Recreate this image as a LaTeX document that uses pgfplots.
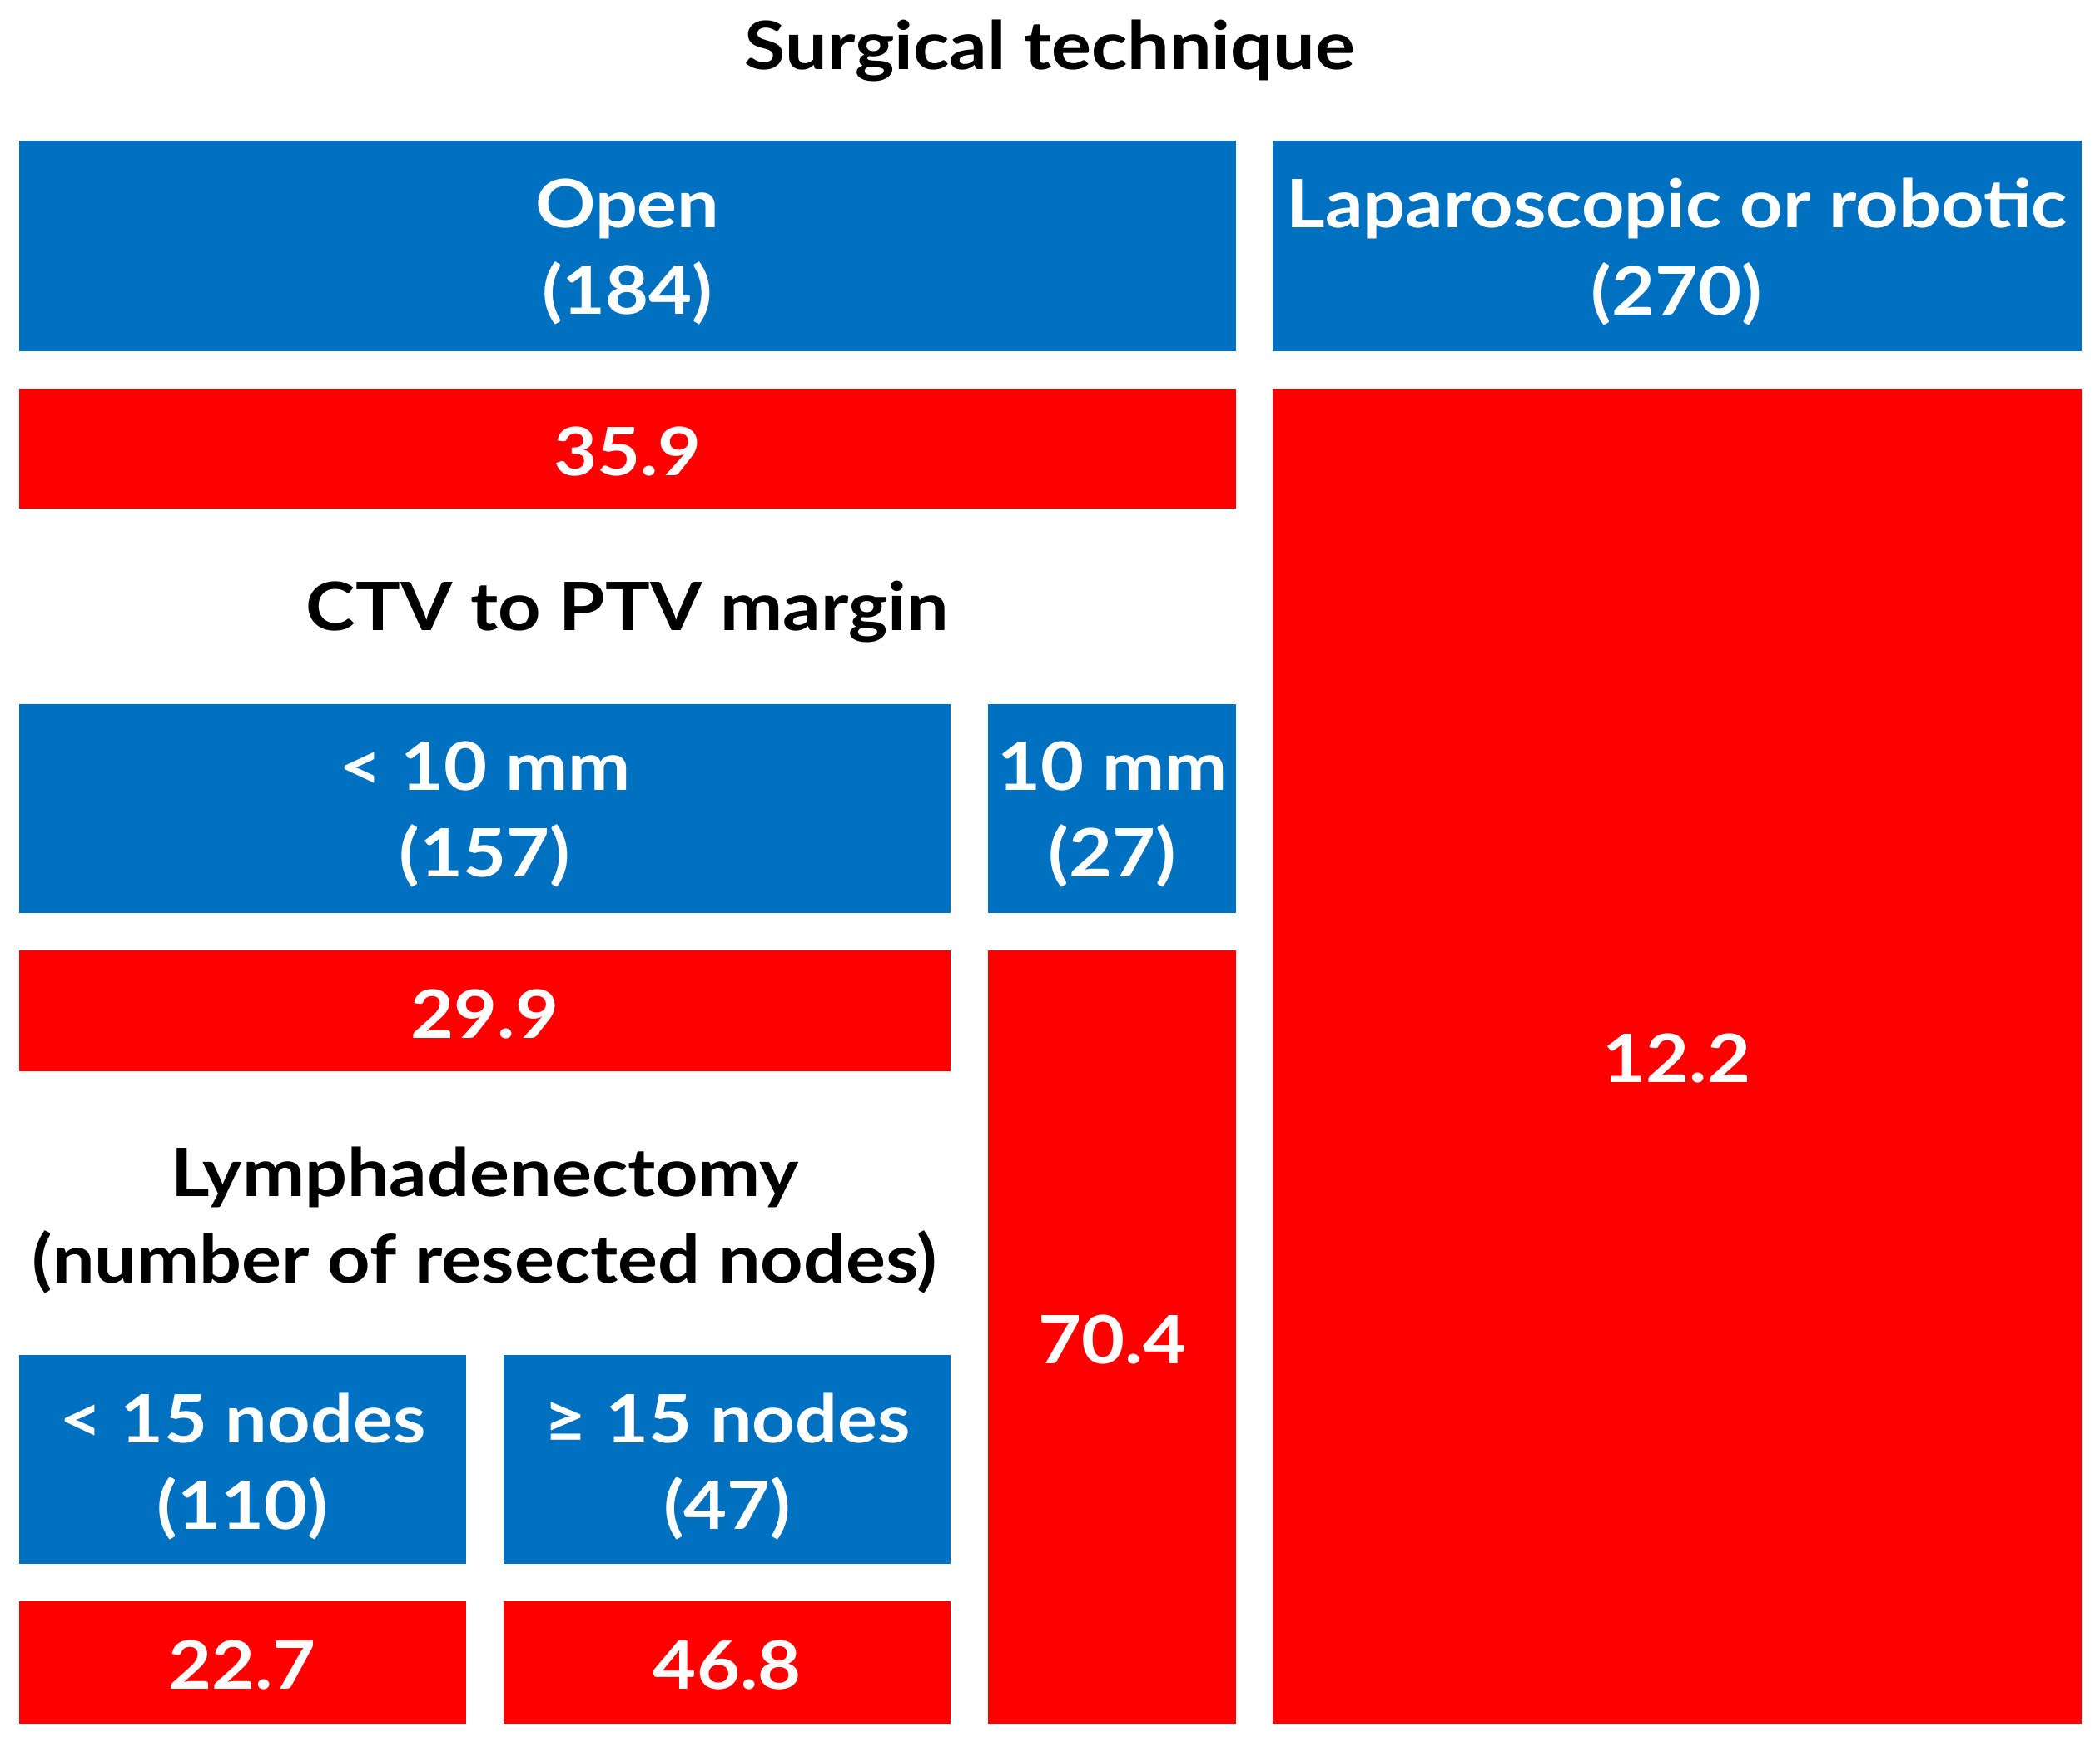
\documentclass[border=0pt]{standalone}
\usepackage{pgfplots}
\pgfplotsset{compat=1.18}
\usepackage{fontspec}
\setmainfont{Lato}[FakeStretch=1.12]
\definecolor{boxblue}{HTML}{0070C0}
\definecolor{boxred}{HTML}{FF0000}

% one rectangle: xmin xmax ymin ymax colour (coordinates in px, y downward)
\newcommand{\cell}[5]{%
  \addplot[fill=#5, draw=none] coordinates {(#1,#3) (#2,#3) (#2,#4) (#1,#4)} -- cycle;}

\tikzset{lab/.style={font=\fontsize{15}{19.5}\selectfont\bfseries, align=center, inner sep=0pt}}

\begin{document}
\begin{tikzpicture}
\begin{axis}[
    hide axis, scale only axis,
    width=470.4bp, height=391.2bp,
    xmin=0, xmax=1568, ymin=0, ymax=1304,
    y dir=reverse, clip=false,
]
% surgical technique
\cell{14}{923}{105}{262}{boxblue}
\cell{950}{1554}{105}{262}{boxblue}
\cell{14}{923}{290}{380}{boxred}
\cell{950}{1554}{290}{1287}{boxred}
% CTV to PTV margin
\cell{14}{710}{526}{682}{boxblue}
\cell{738}{923}{526}{682}{boxblue}
\cell{14}{710}{710}{800}{boxred}
\cell{738}{923}{710}{1287}{boxred}
% lymphadenectomy
\cell{14}{348}{1012}{1168}{boxblue}
\cell{376}{710}{1012}{1168}{boxblue}
\cell{14}{348}{1196}{1287}{boxred}
\cell{376}{710}{1196}{1287}{boxred}

\node[lab, black] at (axis cs:784,38) {Surgical technique};
\node[lab, white] at (axis cs:468.5,188) {Open\\(184)};
\node[lab, white] at (axis cs:1252,188) {Laparoscopic or robotic\\(270)};
\node[lab, white] at (axis cs:468.5,337) {35.9};
\node[lab, white] at (axis cs:1252,790) {12.2};

\node[lab, black] at (axis cs:468.5,457) {CTV to PTV margin};
\node[lab, white] at (axis cs:362,608) {< 10 mm\\(157)};
\node[lab, white] at (axis cs:830.5,608) {10 mm\\(27)};
\node[lab, white] at (axis cs:362,757) {29.9};
\node[lab, white] at (axis cs:830.5,1000) {70.4};

\node[lab, black] at (axis cs:362,911) {Lymphadenectomy\\(number of resected nodes)};
\node[lab, white] at (axis cs:181,1095) {< 15 nodes\\(110)};
\node[lab, white] at (axis cs:543,1095) {≥ 15 nodes\\(47)};
\node[lab, white] at (axis cs:181,1243) {22.7};
\node[lab, white] at (axis cs:543,1243) {46.8};
\end{axis}
\pgfresetboundingbox
\useasboundingbox (current axis.south west) rectangle (current axis.north east);
\end{tikzpicture}
\end{document}
